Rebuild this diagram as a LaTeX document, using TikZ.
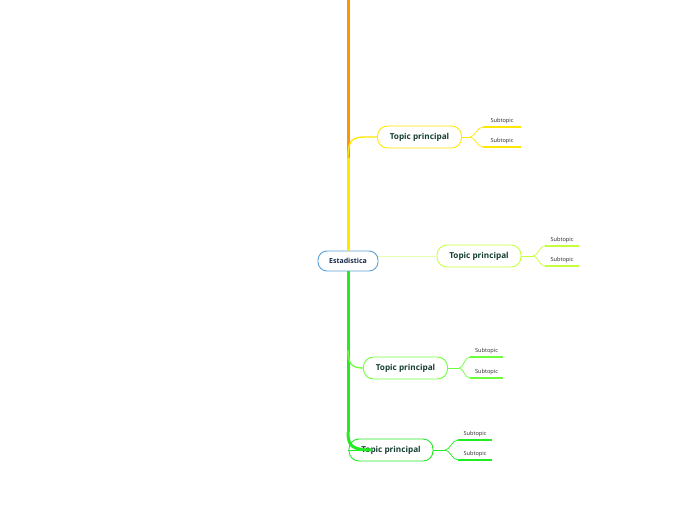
\documentclass[tikz,border=0pt]{standalone}
\usepackage{fontspec}
\usetikzlibrary{calc}
\setmainfont{Open Sans}
\definecolor{orangeb}{RGB}{255,150,0}
\definecolor{yellowb}{RGB}{255,232,0}
\definecolor{limeb}{RGB}{200,255,60}
\definecolor{limepale}{RGB}{228,255,180}
\definecolor{greenl}{RGB}{110,255,60}
\definecolor{greenb}{RGB}{35,235,35}
\definecolor{centralblue}{RGB}{90,160,215}
\definecolor{topictext}{RGB}{20,62,48}
\definecolor{centraltext}{RGB}{22,40,75}
\definecolor{subtext}{RGB}{40,40,40}
\begin{document}
\begin{tikzpicture}[x=1pt,y=-1pt,
  topic/.style={draw, rounded corners=10pt, minimum width=84pt, minimum height=22pt, line width=0.9pt, fill=white, text=topictext, font=\bfseries\fontsize{8.2}{9}\selectfont, inner sep=0pt},
  central/.style={draw=centralblue, rounded corners=9pt, minimum width=60pt, minimum height=20pt, line width=0.9pt, fill=white, text=centraltext, font=\bfseries\fontsize{7}{8}\selectfont, inner sep=0pt},
  sub/.style={inner sep=2.5pt, text=subtext, font=\fontsize{5.6}{6}\selectfont, anchor=south},
  subline/.style={line width=1.6pt},
  thinc/.style={line width=0.9pt},
  trunk/.style={line width=3pt}
]
\useasboundingbox (0,0) rectangle (696,520);
\fill[white] (0,0) rectangle (696,520);

% main trunks
\coordinate (top) at (348,-5);
\coordinate (y1) at (348,158);
\coordinate (g3) at (348,350);
\coordinate (g4) at (348,432);
\coordinate (c2) at (378,256);

\node[central] (c) at (348,261) {Estadistica};

\draw[trunk, orangeb] (c.north) -- (top);
\draw[trunk, yellowb] (c.north) -- (y1);
\draw[trunk, greenb] (c.south) -- (g4);

% topics
\node[topic, draw=yellowb] (t1) at (419.5,137) {Topic principal};
\node[topic, draw=limeb] (t2) at (479,256) {Topic principal};
\node[topic, draw=greenl] (t3) at (405.5,368) {Topic principal};
\node[topic, draw=greenb] (t4) at (391,450) {Topic principal};

% branches to topics
\draw[line width=1.3pt, yellowb] (y1) .. controls (348,140) and (352,137) .. (366,137) -- (t1.west);
\draw[thinc, limepale] (c2) -- (t2.west);
\draw[line width=1.3pt, greenl] (g3) .. controls (348,364) and (352,368) .. (t3.west);
\draw[thinc, greenb] (348,450) -- (366,450);
\draw[trunk, greenb] (g4) .. controls (348,446) and (352,450) .. (372,450);

% subtopics
\node[sub] (s1a) at (502,127) {Subtopic};
\node[sub] (s1b) at (502,147) {Subtopic};
\node[sub] (s2a) at (562,246) {Subtopic};
\node[sub] (s2b) at (562,266) {Subtopic};
\node[sub] (s3a) at (486.5,357) {Subtopic};
\node[sub] (s3b) at (486.5,378) {Subtopic};
\node[sub] (s4a) at (475,440) {Subtopic};
\node[sub] (s4b) at (475,460) {Subtopic};

\coordinate (e1a) at (483,127); \coordinate (e1b) at (483,147);
\coordinate (e2a) at (545,246); \coordinate (e2b) at (545,266);
\coordinate (e3a) at (470,357); \coordinate (e3b) at (470,378);
\coordinate (e4a) at (458,440); \coordinate (e4b) at (458,460);
\coordinate (z1a) at (521,127); \coordinate (z1b) at (521,147);
\coordinate (z2a) at (579,246); \coordinate (z2b) at (579,266);
\coordinate (z3a) at (503,357); \coordinate (z3b) at (503,378);
\coordinate (z4a) at (492,440); \coordinate (z4b) at (492,460);

\coordinate (f1) at (470,137);
\coordinate (f2) at (533,256);
\coordinate (f3) at (459,368);
\coordinate (f4) at (445,450);

\foreach \i/\col in {1/yellowb,2/limeb,3/greenl,4/greenb}{
  \draw[line width=0.7pt, \col] (t\i.east) -- (f\i);
  \draw[line width=0.7pt, \col] (f\i) .. controls ($(f\i)+(5,0)$) and ($(e\i a)+(-6,0)$) .. (e\i a);
  \draw[line width=0.7pt, \col] (f\i) .. controls ($(f\i)+(5,0)$) and ($(e\i b)+(-6,0)$) .. (e\i b);
  \draw[subline, \col] (e\i a) -- (z\i a);
  \draw[subline, \col] (e\i b) -- (z\i b);
}
\end{tikzpicture}
\end{document}
